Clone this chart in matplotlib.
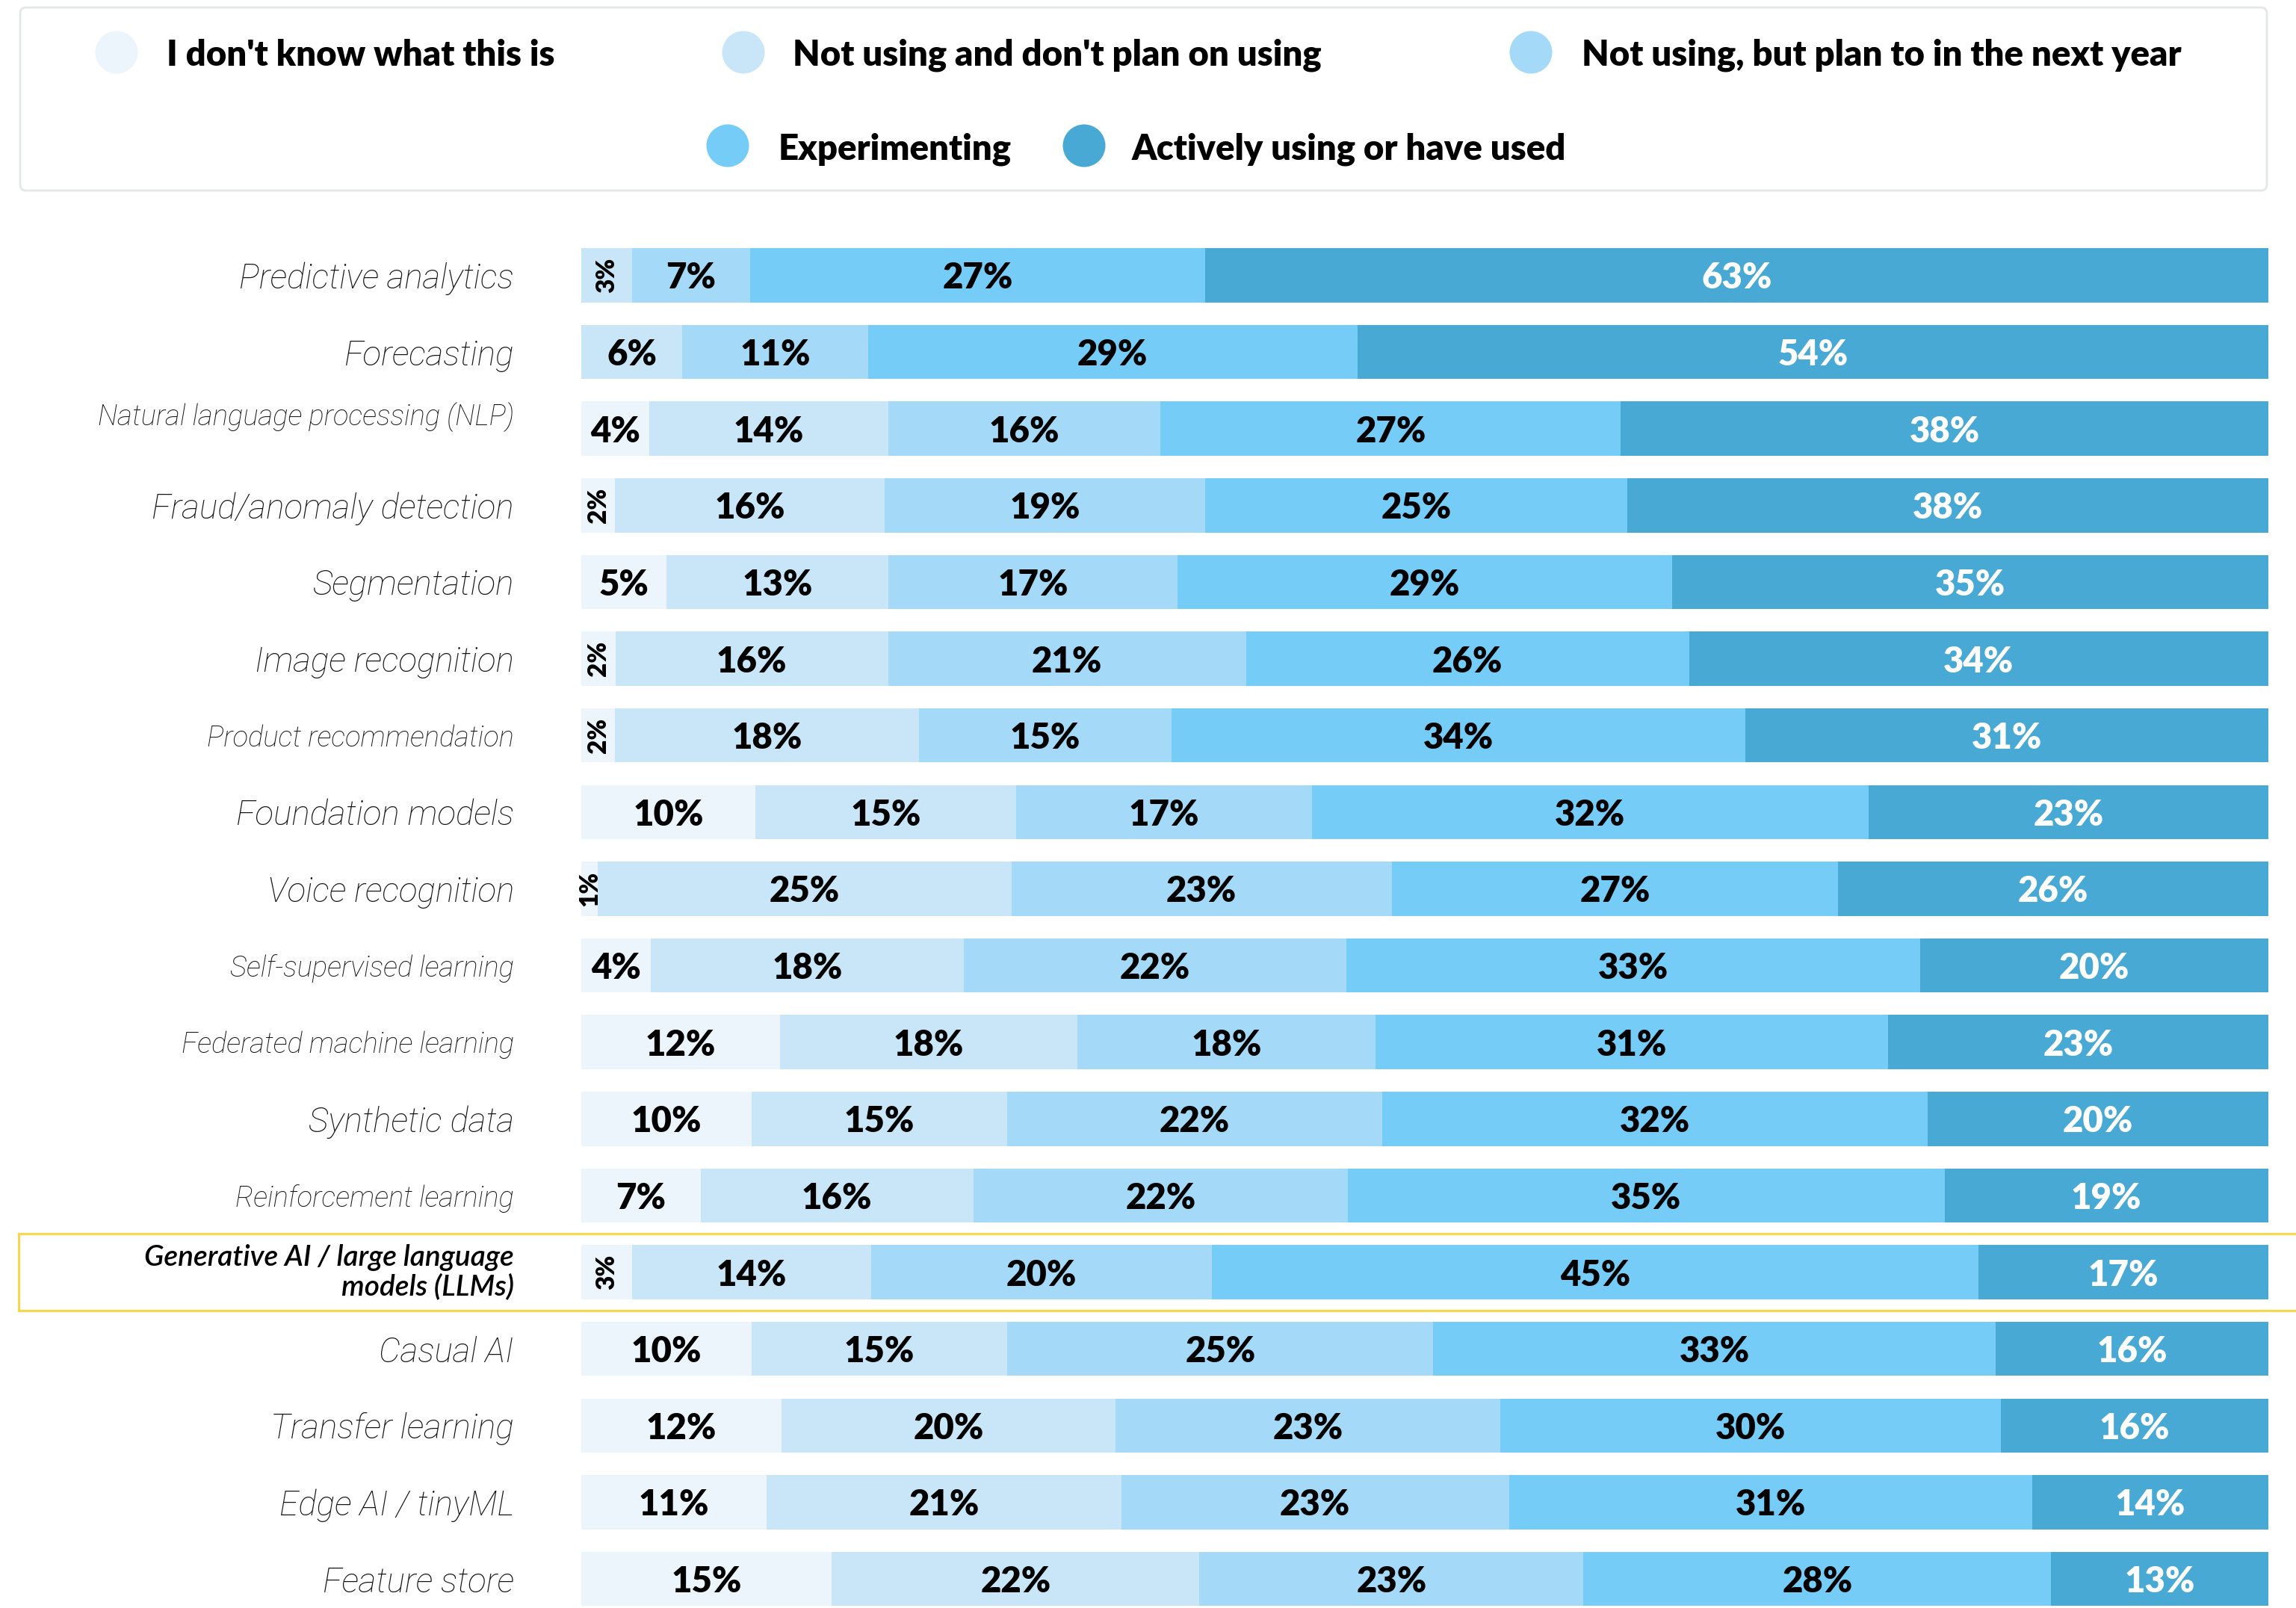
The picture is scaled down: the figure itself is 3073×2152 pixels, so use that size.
import matplotlib
matplotlib.use('Agg')
import matplotlib.pyplot as plt
import matplotlib.transforms as mtransforms
from matplotlib.patches import Ellipse, FancyBboxPatch
from matplotlib.lines import Line2D
import numpy as np

plt.rcParams['font.family'] = ['Lato', 'DejaVu Sans']

# Survey data: share of respondents per technology and adoption stage (%)
categories = [
    'Predictive analytics', 'Forecasting', 'Natural language processing (NLP)',
    'Fraud/anomaly detection', 'Segmentation', 'Image recognition',
    'Product recommendation', 'Foundation models', 'Voice recognition',
    'Self-supervised learning', 'Federated machine learning', 'Synthetic data',
    'Reinforcement learning', 'Generative AI / large language\nmodels (LLMs)',
    'Casual AI', 'Transfer learning', 'Edge AI / tinyML', 'Feature store',
]
dont_know = [0, 0, 4, 2, 5, 2, 2, 10, 1, 4, 12, 10, 7, 3, 10, 12, 11, 15]
not_using = [3, 6, 14, 16, 13, 16, 18, 15, 25, 18, 18, 15, 16, 14, 15, 20, 21, 22]
plan_next_year = [7, 11, 16, 19, 17, 21, 15, 17, 23, 22, 18, 22, 22, 20, 25, 23, 23, 23]
experimenting = [27, 29, 27, 25, 29, 26, 34, 32, 27, 33, 31, 32, 35, 45, 33, 30, 31, 28]
actively_using = [63, 54, 38, 38, 35, 34, 31, 23, 26, 20, 23, 20, 19, 17, 16, 16, 14, 13]

series_names = ["I don't know what this is", "Not using and don't plan on using",
                "Not using, but plan to in the next year", "Experimenting",
                "Actively using or have used"]
colors = ['#ebf5fb', '#c8e6f7', '#a4daf7', '#74ccf7', '#47a9d4']
small_labels = ['Natural language processing (NLP)', 'Product recommendation',
                'Self-supervised learning', 'Federated machine learning',
                'Reinforcement learning']
highlight = 'Generative AI / large language\nmodels (LLMs)'

W, H = 3073, 2152
fig = plt.figure(figsize=(W / 100, H / 100), dpi=100)

# background axes in pixel units for the legend box and markers
bg = fig.add_axes([0, 0, 1, 1], zorder=0)
bg.set_xlim(0, W)
bg.set_ylim(H, 0)
bg.axis('off')

# bar axes
ax = fig.add_axes([778 / W, (H - 2150) / H, (3036 - 778) / W, (2150 - 300) / H], zorder=1)
ax.set_xlim(0, 100)
ax.set_ylim(17.36, -0.667)
ax.axis('off')

data = np.array([dont_know, not_using, plan_next_year, experimenting, actively_using], dtype=float)
totals = data.sum(axis=0)
shares = data / totals * 100
y = np.arange(len(categories))

left = np.zeros(len(categories))
for s in range(5):
    ax.barh(y, shares[s], left=left, height=0.707, color=colors[s], linewidth=0)
    for i in range(len(categories)):
        v = data[s, i]
        if v <= 0:
            continue
        cx = left[i] + shares[s, i] / 2
        tc = 'white' if s == 4 else 'black'
        if v <= 3:
            ax.text(cx, y[i], f'{int(v)}%', rotation=90, ha='center', va='center',
                    fontsize=24, fontweight='heavy', color=tc)
        else:
            ax.text(cx, y[i], f'{int(v)}%', ha='center', va='center_baseline',
                    fontsize=34, fontweight='heavy', color=tc)
    left += shares[s]

# category labels on the left
label_font = ['Roboto', 'Lato', 'DejaVu Sans']
trans = mtransforms.blended_transform_factory(fig.transFigure, ax.transData)
for i, cat in enumerate(categories):
    if cat == highlight:
        fig.text(688 / W, y[i], cat, transform=trans, ha='right', va='center',
                 fontsize=28, fontstyle='italic', fontweight='semibold',
                 linespacing=1.1)
    elif cat in small_labels:
        off = -0.2 if cat.startswith('Natural') else 0
        fig.text(688 / W, y[i] + off, cat, transform=trans, ha='right',
                 va='center_baseline', fontsize=27.5, fontstyle='italic',
                 fontweight='light', family=label_font, color='#111111')
    else:
        fig.text(688 / W, y[i], cat, transform=trans, ha='right',
                 va='center_baseline', fontsize=33, fontstyle='italic',
                 fontweight='light', family=label_font, color='#111111')

# highlight frame around the generative AI row
hi = categories.index(highlight)
frame_kw = dict(color='#f9d64c', lw=2.2, transform=trans, clip_on=False, zorder=3)
fig.add_artist(Line2D([25 / W, 1], [hi - 0.5, hi - 0.5], **frame_kw))
fig.add_artist(Line2D([25 / W, 1], [hi + 0.5, hi + 0.5], **frame_kw))
fig.add_artist(Line2D([25 / W, 25 / W], [hi - 0.5, hi + 0.5], **frame_kw))

# legend box
bg.add_patch(FancyBboxPatch((27, 10), 3034 - 27, 245,
                            boxstyle='round,pad=0,rounding_size=8',
                            facecolor='white', edgecolor='#e3e7e7', lw=2))
legend_pos = [(156, 70, 223), (995, 70, 1061), (2049, 70, 2117),
              (974, 195, 1042), (1451, 195, 1515)]
for (mx, my, tx), name, c in zip(legend_pos, series_names, colors):
    bg.add_patch(Ellipse((mx, my), 57, 57, facecolor=c, edgecolor='none'))
    bg.text(tx, my, name, ha='left', va='center_baseline', fontsize=34,
            fontweight='heavy')

fig.savefig('out.png', dpi=100)
